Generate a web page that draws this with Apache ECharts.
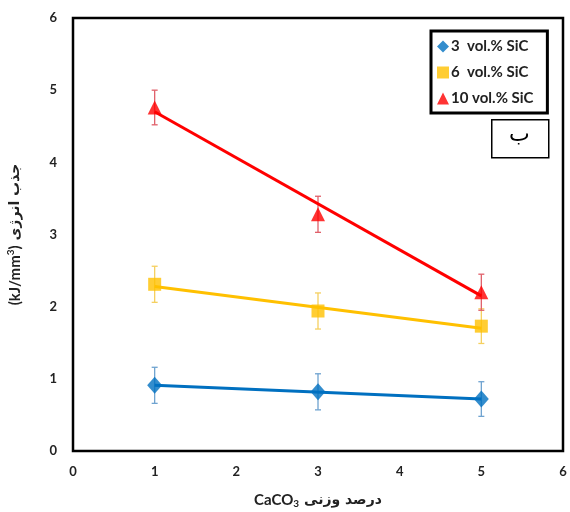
<!DOCTYPE html>
<html>
<head>
<meta charset="utf-8">
<script src="https://cdn.jsdelivr.net/npm/echarts@6/dist/echarts.min.js"></script>
<style>
  html, body { margin: 0; padding: 0; background: #fff; }
  #chart { width: 570px; height: 512px; }
</style>
</head>
<body>
<div id="chart"></div>
<script>
// CaCO3 weight percent
const caco3 = [1, 3, 5];

// energy absorption (kJ/mm3) per SiC content
const sic3 = [0.91, 0.82, 0.72];
const sic6 = [2.31, 1.94, 1.73];
const sic10 = [4.76, 3.28, 2.20];

// error bar half-heights
const err3 = [0.25, 0.25, 0.24];
const err6 = [0.25, 0.25, 0.24];
const err10 = [0.24, 0.25, 0.25];

// trend line ends (at x = 1 and x = 5)
const trendX = [1, 5];
const trend3 = [0.91, 0.72];
const trend6 = [2.28, 1.70];
const trend10 = [4.70, 2.15];

const names = ['3  vol.% SiC', '6  vol.% SiC', '10 vol.% SiC'];
const xTicks = [0, 1, 2, 3, 4, 5, 6];

const font = 'Lato, "Open Sans", "Noto Sans", sans-serif';
const faFont = '"DejaVu Sans", "Noto Sans", sans-serif';

const chart = echarts.init(document.getElementById('chart'), null, { renderer: 'canvas' });

function pairs(xs, ys) { return xs.map((x, i) => [x, ys[i]]); }

function errSeries(vals, errs, color) {
  return {
    type: 'custom',
    silent: true,
    z: 1,
    data: caco3.map((x, i) => [x, vals[i] - errs[i], vals[i] + errs[i]]),
    renderItem(params, api) {
      const lo = api.coord([api.value(0), api.value(1)]);
      const hi = api.coord([api.value(0), api.value(2)]);
      const w = 3;
      const st = { stroke: color, lineWidth: 1.3 };
      return {
        type: 'group',
        children: [
          { type: 'line', shape: { x1: lo[0], y1: lo[1], x2: hi[0], y2: hi[1] }, style: st },
          { type: 'line', shape: { x1: lo[0] - w, y1: lo[1], x2: lo[0] + w, y2: lo[1] }, style: st },
          { type: 'line', shape: { x1: hi[0] - w, y1: hi[1], x2: hi[0] + w, y2: hi[1] }, style: st }
        ]
      };
    }
  };
}

function trendSeries(ys, color) {
  return {
    type: 'line',
    data: pairs(trendX, ys),
    showSymbol: false,
    silent: true,
    z: 2,
    lineStyle: { color: color, width: 3 },
    animation: false
  };
}

function pointSeries(name, ys, color, symbol, size) {
  return {
    name: name,
    type: 'scatter',
    data: pairs(caco3, ys),
    symbol: symbol,
    symbolSize: size,
    z: 3,
    itemStyle: { color: color }
  };
}

const blue = '#0070C0', yellow = '#FFC000', red = '#FF0000';

const titleRich = {
  a: { fontSize: 15, fontWeight: 'bold', color: '#222', fontFamily: font },
  p: { fontSize: 14, fontWeight: 'bold', color: '#222', fontFamily: faFont }
};

chart.setOption({
  animation: false,
  grid: {
    left: 73, top: 18, right: 7, bottom: 61,
    outerBoundsMode: 'none',
    containLabel: false,
    show: true, borderColor: '#000', borderWidth: 2.5
  },
  xAxis: {
    type: 'value', min: 0, max: 6, interval: 1,
    axisLine: { show: false }, axisTick: { show: false }, splitLine: { show: false },
    axisLabel: {
      margin: 14, fontSize: 13, fontWeight: 'bold', color: '#222', fontFamily: font,
      formatter: v => String(xTicks[v] ?? v)
    },
    name: '{a|CaCO}{s|3}{p| درصد وزنی}',
    nameLocation: 'middle',
    nameGap: 40,
    nameTextStyle: {
      rich: Object.assign({
        s: { fontSize: 10, fontWeight: 'bold', color: '#222', fontFamily: font, padding: [8, 0, 0, 0] }
      }, titleRich)
    }
  },
  yAxis: {
    type: 'value', min: 0, max: 6, interval: 1,
    axisLine: { show: false }, axisTick: { show: false }, splitLine: { show: false },
    axisLabel: { margin: 16, fontSize: 13, fontWeight: 'bold', color: '#222', fontFamily: font },
    name: '{a|(kJ/mm}{s|3}{a|)}{p| جذب انرژی}',
    nameLocation: 'middle',
    nameGap: 49,
    nameRotate: 90,
    nameTextStyle: {
      rich: Object.assign({
        s: { fontSize: 10, fontWeight: 'bold', color: '#222', fontFamily: font, padding: [0, 0, 8, 0] }
      }, titleRich)
    }
  },
  legend: {
    orient: 'vertical',
    left: 431, top: 31,
    padding: [8, 14, 7, 6],
    itemGap: 11,
    itemWidth: 12, itemHeight: 12,
    borderColor: '#000', borderWidth: 3,
    data: [
      { name: names[0], icon: 'diamond' },
      { name: names[1], icon: 'rect' },
      { name: names[2], icon: 'triangle' }
    ],
    textStyle: { fontSize: 15, fontWeight: 'bold', color: '#222', fontFamily: font, padding: [0, 0, 0, -3] }
  },
  graphic: [
    {
      type: 'rect', left: 491, top: 119,
      shape: { width: 57, height: 38 },
      style: { fill: '#fff', stroke: '#000', lineWidth: 1.5 }
    },
    {
      type: 'text', left: 509, top: 124,
      style: { text: 'ب', fontSize: 22, fill: '#000', fontFamily: faFont }
    }
  ],
  series: [
    errSeries(sic3, err3, '#6fa3d0'),
    errSeries(sic6, err6, '#f5d060'),
    errSeries(sic10, err10, '#e0606a'),
    trendSeries(trend3, blue),
    trendSeries(trend6, yellow),
    trendSeries(trend10, red),
    pointSeries(names[0], sic3, blue, 'diamond', [15, 17]),
    pointSeries(names[1], sic6, yellow, 'rect', 13),
    pointSeries(names[2], sic10, red, 'triangle', [14, 14])
  ]
});
</script>
</body>
</html>
